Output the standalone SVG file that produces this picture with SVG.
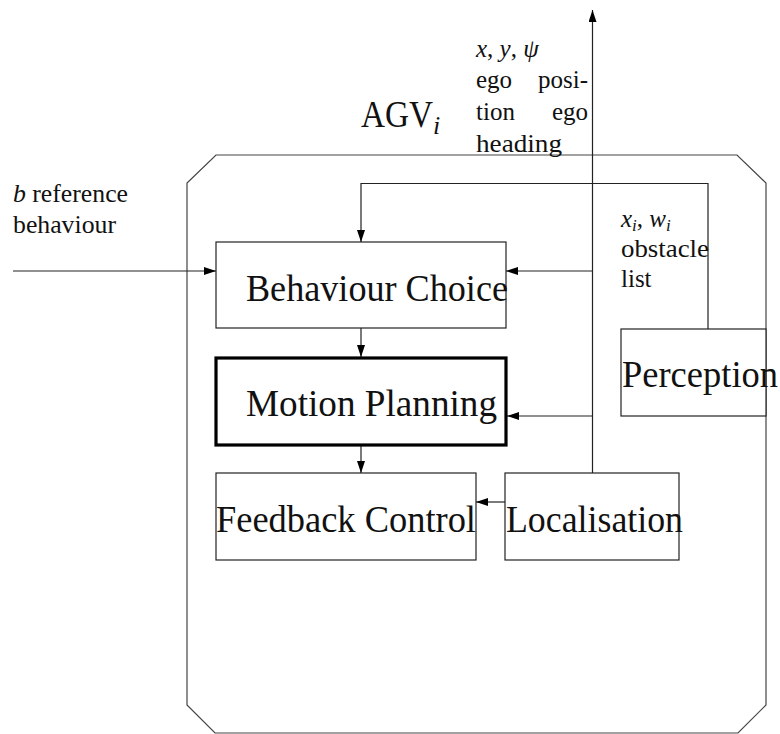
<svg xmlns="http://www.w3.org/2000/svg" width="780" height="734" viewBox="0 0 780 734">
<defs>
<style>
text{fill:#111;font-family:'Liberation Serif','DejaVu Serif','Times New Roman',serif}
.s{font-size:25px}
.big{font-size:38px}
.box{fill:#fff;stroke:#222;stroke-width:1.2}
.thick{fill:#fff;stroke:#000;stroke-width:3.2}
.ln{fill:none;stroke:#222;stroke-width:1.2}
.it{font-style:italic}
</style>
<marker id="ah" viewBox="0 0 12 8" refX="12" refY="4" markerWidth="12" markerHeight="8" orient="auto" markerUnits="userSpaceOnUse"><path d="M0,0 L12,4 L0,8 z" fill="#000"/></marker>
</defs>
<rect width="780" height="734" fill="#fff"/>
<g id="agv">
<polygon points="216,155 737,155 766,183 766,705 738,733 215,733 187,705 187,183" fill="none" stroke="#444" stroke-width="1.2"/>
<text x="361" y="127" class="big" textLength="72" lengthAdjust="spacingAndGlyphs">AGV</text>
<text x="433" y="134" class="it" font-size="26">i</text>
</g>
<g id="connectors">
<line class="ln" x1="13" y1="271" x2="216" y2="271" marker-end="url(#ah)"/>
<polyline class="ln" points="708,329 708,183.5 361,183.5 361,242" marker-end="url(#ah)"/>
<line class="ln" x1="592.5" y1="473" x2="592.5" y2="10" marker-end="url(#ah)"/>
<line class="ln" x1="592.5" y1="271" x2="506" y2="271" marker-end="url(#ah)"/>
<line class="ln" x1="592.5" y1="416" x2="507" y2="416" marker-end="url(#ah)"/>
<line class="ln" x1="361" y1="328" x2="361" y2="357" marker-end="url(#ah)"/>
<line class="ln" x1="361" y1="446" x2="361" y2="473" marker-end="url(#ah)"/>
<line class="ln" x1="505" y1="502" x2="476" y2="502" marker-end="url(#ah)"/>
</g>
<g id="behaviour-choice">
<rect class="box" x="216" y="242" width="290" height="86"/>
<text x="246" y="301" class="big" textLength="262" lengthAdjust="spacingAndGlyphs">Behaviour Choice</text>
</g>
<g id="motion-planning">
<rect class="thick" x="216" y="358" width="290" height="87"/>
<text x="246" y="416" class="big" textLength="251" lengthAdjust="spacingAndGlyphs">Motion Planning</text>
</g>
<g id="feedback-control">
<rect class="box" x="216" y="473" width="260" height="87"/>
<text x="216" y="532" class="big" textLength="260" lengthAdjust="spacingAndGlyphs">Feedback Control</text>
</g>
<g id="localisation">
<rect class="box" x="505" y="473" width="174" height="87"/>
<text x="506" y="532" class="big" textLength="177" lengthAdjust="spacingAndGlyphs">Localisation</text>
</g>
<g id="perception">
<rect class="box" x="621" y="329" width="145" height="87"/>
<text x="622" y="387" class="big" textLength="156" lengthAdjust="spacingAndGlyphs">Perception</text>
</g>
<g id="label-reference">
<text x="13" y="202" class="s" textLength="115" lengthAdjust="spacingAndGlyphs"><tspan class="it">b</tspan> reference</text>
<text x="13" y="233" class="s" textLength="103" lengthAdjust="spacingAndGlyphs">behaviour</text>
</g>
<g id="label-ego">
<text x="476" y="57" class="s"><tspan class="it">x</tspan>, <tspan class="it">y</tspan>, <tspan class="it">ψ</tspan></text>
<text x="476" y="88" class="s">ego</text>
<text x="588" y="88" class="s" text-anchor="end">posi-</text>
<text x="476" y="120" class="s">tion</text>
<text x="588" y="120" class="s" text-anchor="end">ego</text>
<text x="476" y="152" class="s" textLength="86" lengthAdjust="spacingAndGlyphs">heading</text>
</g>
<g id="label-obstacle">
<text x="621" y="227" class="s"><tspan class="it">x</tspan><tspan class="it" font-size="17" dy="4">i</tspan><tspan dy="-4">, </tspan><tspan class="it">w</tspan><tspan class="it" font-size="17" dy="4">i</tspan></text>
<text x="621" y="257" class="s" textLength="88" lengthAdjust="spacingAndGlyphs">obstacle</text>
<text x="621" y="287" class="s">list</text>
</g>
</svg>
